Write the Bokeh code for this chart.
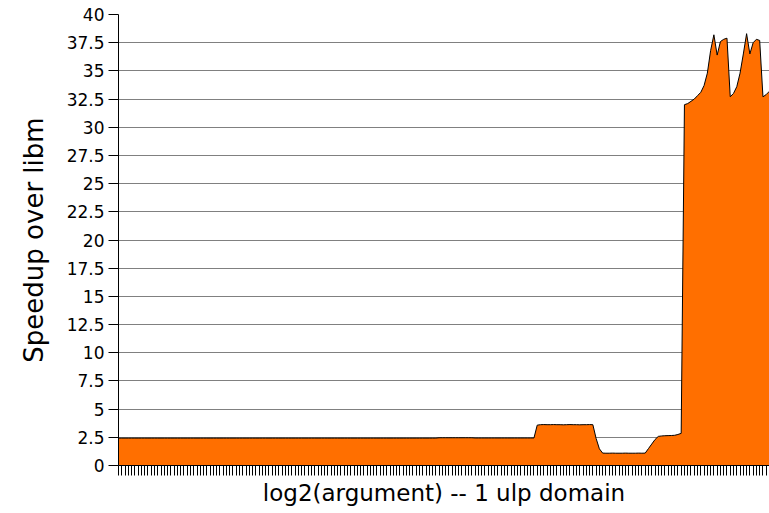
from bokeh.plotting import figure
from bokeh.models import Range1d, FixedTicker, ColumnDataSource
from bokeh.embed import file_html
from bokeh.resources import INLINE

# Speedup per sample, left to right
seg_flat = [2.43, 2.43, 2.43, 2.43, 2.43, 2.43, 2.43, 2.43, 2.43, 2.43,
            2.43, 2.43, 2.43, 2.43, 2.43, 2.43, 2.43, 2.43, 2.43, 2.43,
            2.43, 2.43, 2.43, 2.43, 2.43, 2.43, 2.43, 2.43, 2.43, 2.43,
            2.43, 2.43, 2.43, 2.43, 2.43, 2.43, 2.43, 2.43, 2.43, 2.43,
            2.43, 2.43, 2.43, 2.43, 2.43, 2.43, 2.43, 2.43, 2.43, 2.43,
            2.43, 2.43, 2.43, 2.43, 2.43, 2.43, 2.43, 2.43, 2.43, 2.43,
            2.43, 2.43, 2.43, 2.43, 2.43, 2.43, 2.43, 2.43, 2.43, 2.43,
            2.43, 2.43, 2.43, 2.43, 2.43, 2.43, 2.43, 2.43, 2.43, 2.43,
            2.43, 2.43, 2.43, 2.43, 2.43, 2.43, 2.43, 2.43, 2.43, 2.43,
            2.43, 2.43, 2.43, 2.43, 2.43, 2.43, 2.43, 2.43, 2.46, 2.46,
            2.46, 2.46, 2.46, 2.46, 2.46, 2.46, 2.46, 2.46, 2.46, 2.44,
            2.44, 2.44, 2.44, 2.44, 2.44, 2.44, 2.44, 2.44, 2.44, 2.44,
            2.44, 2.44, 2.44, 2.44, 2.44, 2.44, 2.44, 2.44]
seg_mid = [3.58, 3.62, 3.63, 3.62, 3.62, 3.63, 3.62, 3.62, 3.61, 3.62,
           3.63, 3.62, 3.62, 3.61, 3.62, 3.62, 3.63, 3.62]
seg_dip = [2.40, 1.48, 1.10, 1.09, 1.09, 1.10, 1.09, 1.09, 1.09, 1.10,
           1.09, 1.09, 1.09, 1.10, 1.09, 1.10, 1.50, 1.90, 2.30, 2.58,
           2.62, 2.64, 2.65, 2.66, 2.68, 2.75, 2.85]
seg_high = [32.0, 32.1, 32.3, 32.5, 32.8, 33.1, 33.7, 34.8, 36.8, 38.2,
            36.4, 37.6, 37.8, 37.9, 32.7, 33.0, 33.6, 34.8, 36.5, 38.3,
            36.5, 37.5, 37.8, 37.7, 32.7, 32.9, 33.2]

speedup = seg_flat + seg_mid + seg_dip + seg_high
xs = list(range(len(speedup)))

y_ticks = [0, 2.5, 5, 7.5, 10, 12.5, 15, 17.5, 20, 22.5, 25, 27.5, 30, 32.5, 35, 37.5, 40]
y_tick_labels = ["0", "2.5", "5", "7.5", "10", "12.5", "15", "17.5", "20", "22.5",
                 "25", "27.5", "30", "32.5", "35", "37.5", "40"]

FONT = "DejaVu Sans"

src = ColumnDataSource(dict(x=xs, y=speedup))

p = figure(width=769, height=513, output_backend="svg", toolbar_location=None,
           x_range=Range1d(0, len(speedup) - 1), y_range=Range1d(0, 40),
           min_border_left=118, min_border_right=0, min_border_top=14, min_border_bottom=48)
p.outline_line_color = None
p.background_fill_color = "white"

p.varea(x="x", y1=0, y2="y", source=src, fill_color="#ff6f00", fill_alpha=1.0)
p.line(x="x", y="y", source=src, line_color="black", line_width=1)

# y axis
p.yaxis.ticker = FixedTicker(ticks=y_ticks)
p.yaxis.major_label_overrides = {t: l for t, l in zip(y_ticks, y_tick_labels)}
p.yaxis.major_tick_out = 10
p.yaxis.major_tick_in = 0
p.yaxis.minor_tick_line_color = None
p.yaxis.axis_line_color = "black"
p.yaxis.major_tick_line_color = "black"
p.yaxis.major_label_text_font = FONT
p.yaxis.major_label_text_font_size = "17px"
p.yaxis.major_label_text_color = "black"
p.yaxis.major_label_standoff = 4
p.yaxis.axis_label = "Speedup over libm"
p.yaxis.axis_label_text_font = FONT
p.yaxis.axis_label_text_font_size = "26px"
p.yaxis.axis_label_text_font_style = "normal"
p.yaxis.axis_label_text_color = "black"
p.yaxis.axis_label_standoff = 15

# x axis: one unlabeled tick per sample (drawn as minor ticks, no labels)
p.xaxis.ticker = FixedTicker(ticks=[], minor_ticks=xs)
p.xaxis.minor_tick_out = 10
p.xaxis.minor_tick_in = 0
p.xaxis.minor_tick_line_color = "black"
p.xaxis.major_tick_line_color = None
p.xaxis.axis_line_color = "black"
p.xaxis.major_label_standoff = 0
p.xaxis.axis_label = "log2(argument) -- 1 ulp domain"
p.xaxis.axis_label_text_font = FONT
p.xaxis.axis_label_text_font_size = "23px"
p.xaxis.axis_label_text_font_style = "normal"
p.xaxis.axis_label_text_color = "black"
p.xaxis.axis_label_standoff = 4

p.xgrid.grid_line_color = None
p.ygrid.ticker = FixedTicker(ticks=y_ticks)
p.ygrid.grid_line_color = "#808080"
p.ygrid.grid_line_width = 1

open("out.html", "w").write(file_html(p, INLINE))
